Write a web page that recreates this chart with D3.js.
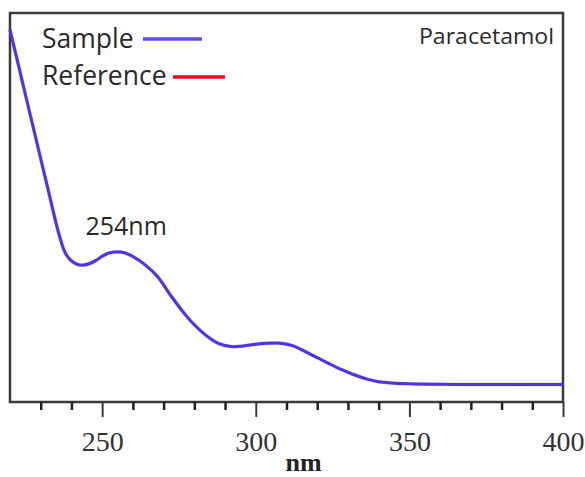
<!DOCTYPE html>
<html>
<head>
<meta charset="utf-8">
<script src="https://cdn.jsdelivr.net/npm/d3@7/dist/d3.min.js"></script>
<style>
  html, body { margin: 0; padding: 0; background: #fff; }
  svg { display: block; }
</style>
</head>
<body>
<div id="chart"></div>
<script>
// ---- data ----
const wavelengths = [220, 224, 228, 232, 236, 238, 240, 242, 244, 246, 248, 250, 252, 254, 256, 258, 260,
  264, 268, 272, 276, 280, 284, 288, 292, 296, 300, 304, 308, 312, 316, 320, 324, 328, 332, 336, 340,
  344, 350, 360, 370, 380, 390, 400];
const sampleAbs = [1.913, 1.648, 1.383, 1.119, 0.859, 0.766, 0.725, 0.707, 0.704, 0.712, 0.728, 0.749, 0.765,
  0.771, 0.771, 0.763, 0.748, 0.705, 0.645, 0.555, 0.470, 0.397, 0.340, 0.300, 0.285, 0.288, 0.297,
  0.302, 0.302, 0.290, 0.260, 0.228, 0.196, 0.166, 0.140, 0.119, 0.104, 0.098, 0.094, 0.091, 0.090,
  0.090, 0.090, 0.090];
const referenceAbs = [1.913, 1.648, 1.383, 1.119, 0.859, 0.766, 0.726, 0.708, 0.705, 0.712, 0.728, 0.749, 0.765,
  0.771, 0.771, 0.763, 0.748, 0.705, 0.645, 0.555, 0.470, 0.397, 0.340, 0.300, 0.285, 0.288, 0.297,
  0.302, 0.302, 0.290, 0.260, 0.228, 0.196, 0.166, 0.140, 0.119, 0.104, 0.098, 0.094, 0.091, 0.090,
  0.090, 0.090, 0.090];
const seriesNames = ["Sample", "Reference"];
const xMajorTicks = [250, 300, 350, 400];
const xMinorTicks = [230, 240, 260, 270, 280, 290, 310, 320, 330, 340, 360, 370, 380, 390];
const xDomain = [220, 400];
const yDomain = [0, 2];
const title = "Paracetamol";
const peakLabel = "254nm";
const peakWavelength = 254;
const xLabel = "nm";

// ---- layout ----
const W = 585, H = 477;
const mLeft = 10, mRight = 563, mTop = 13, mBottom = 402;

const svg = d3.select("#chart").append("svg").attr("width", W).attr("height", H);

const x = d3.scaleLinear().domain(xDomain).range([mLeft, mRight]);
const y = d3.scaleLinear().domain(yDomain).range([mBottom, mTop]);

// frame
svg.append("rect")
  .attr("x", mLeft).attr("y", mTop)
  .attr("width", mRight - mLeft).attr("height", mBottom - mTop)
  .attr("fill", "none").attr("stroke", "#3a3a3a").attr("stroke-width", 2.5);

// axes
const axMajor = d3.axisBottom(x).tickValues(xMajorTicks).tickSize(15).tickPadding(14).tickFormat(d3.format("d"));
const gMaj = svg.append("g").attr("transform", `translate(0,${mBottom})`).call(axMajor);
gMaj.select(".domain").remove();
gMaj.selectAll(".tick line").attr("stroke", "#3a3a3a").attr("stroke-width", 2);
gMaj.selectAll(".tick text")
  .attr("font-family", "'Liberation Serif', 'Times New Roman', serif")
  .attr("font-size", 28).attr("fill", "#333");

const axMinor = d3.axisBottom(x).tickValues(xMinorTicks).tickSize(8).tickFormat("");
const gMin = svg.append("g").attr("transform", `translate(0,${mBottom})`).call(axMinor);
gMin.select(".domain").remove();
gMin.selectAll(".tick line").attr("stroke", "#222").attr("stroke-width", 2.5);

svg.append("text")
  .attr("x", (mLeft + mRight) / 2 + 17).attr("y", 471)
  .attr("text-anchor", "middle")
  .attr("font-family", "'Liberation Serif', 'Times New Roman', serif")
  .attr("font-weight", "bold").attr("font-size", 26).attr("fill", "#222")
  .text(xLabel);

// lines
const line = d3.line().x((d, i) => x(wavelengths[i])).y(d => y(d)).curve(d3.curveCatmullRom.alpha(0.5));

svg.append("path").datum(referenceAbs)
  .attr("d", line).attr("fill", "none")
  .attr("stroke", "#e8102a").attr("stroke-width", 3.8).attr("opacity", 0.22);
svg.append("path").datum(sampleAbs)
  .attr("d", line).attr("fill", "none")
  .attr("stroke", "#4436f0").attr("stroke-width", 3);
svg.append("path").datum(referenceAbs)
  .attr("d", line).attr("fill", "none")
  .attr("stroke", "#d0207a").attr("stroke-width", 1)
  .attr("stroke-dasharray", "2 7").attr("opacity", 0.35);

// legend
const font = "'Open Sans', 'Noto Sans', sans-serif";
const legendColors = ["#5a4ee8", "#e0101a"];
const legendRows = [{ ty: 48, ly: 39, x1: 143, x2: 202 }, { ty: 85, ly: 77, x1: 173, x2: 225 }];
seriesNames.forEach((name, i) => {
  const r = legendRows[i];
  svg.append("text").attr("x", 42).attr("y", r.ty)
    .attr("font-family", font).attr("font-size", 26.5).attr("fill", "#2a2a2a")
    .text(name);
  svg.append("line").attr("x1", r.x1).attr("x2", r.x2).attr("y1", r.ly).attr("y2", r.ly)
    .attr("stroke", legendColors[i]).attr("stroke-width", 3.5);
});

// title
svg.append("text").attr("x", 554).attr("y", 44).attr("text-anchor", "end")
  .attr("font-family", font).attr("font-size", 21).attr("fill", "#2a2a2a")
  .attr("textLength", 135).attr("lengthAdjust", "spacingAndGlyphs")
  .text(title);

// peak annotation
svg.append("text").attr("x", x(peakWavelength) - 29).attr("y", 235)
  .attr("font-family", font).attr("font-size", 25).attr("fill", "#2a2a2a")
  .text(peakLabel);
</script>
</body>
</html>
